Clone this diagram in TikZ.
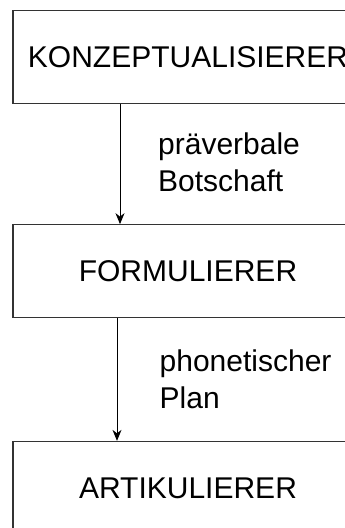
\documentclass[tikz,border=0pt]{standalone}
\usepackage{fontspec}
\setmainfont{Liberation Sans}
\usetikzlibrary{arrows.meta}

\begin{document}
\begin{tikzpicture}[x=1pt, y=-1pt,
  stage/.style={draw=black!80, line width=1.3pt, minimum width=350pt,
    minimum height=93pt, inner sep=0pt,
    font=\fontsize{30}{36}\selectfont},
  label/.style={anchor=base west, align=left, inner sep=0pt,
    font=\fontsize{30}{37}\selectfont},
  flow/.style={line width=1pt, -{Stealth[length=11pt, width=9pt, inset=3.5pt]}}]
  % page frame; the boxes run past the right and bottom edges
  \useasboundingbox (0,0) rectangle (345,528);
  \clip (0,0) rectangle (345,528);

  \node[stage] (konz) at (188,56.8) {KONZEPTUALISIERER};
  \node[stage] (form) at (188,271.3) {FORMULIERER};
  \node[stage] (art)  at (188,488) {ARTIKULIERER};

  \draw[flow] ([xshift=-68pt]konz.south) -- ([xshift=-68pt]form.north);
  \draw[flow] ([xshift=-71pt]form.south) -- ([xshift=-71pt]art.north);

  % base west sits on the last line's baseline
  \node[label] (msg)  at (158,191) {präverbale\\Botschaft};
  \node[label] (plan) at (159.5,408.5) {phonetischer\\Plan};
\end{tikzpicture}
\end{document}
